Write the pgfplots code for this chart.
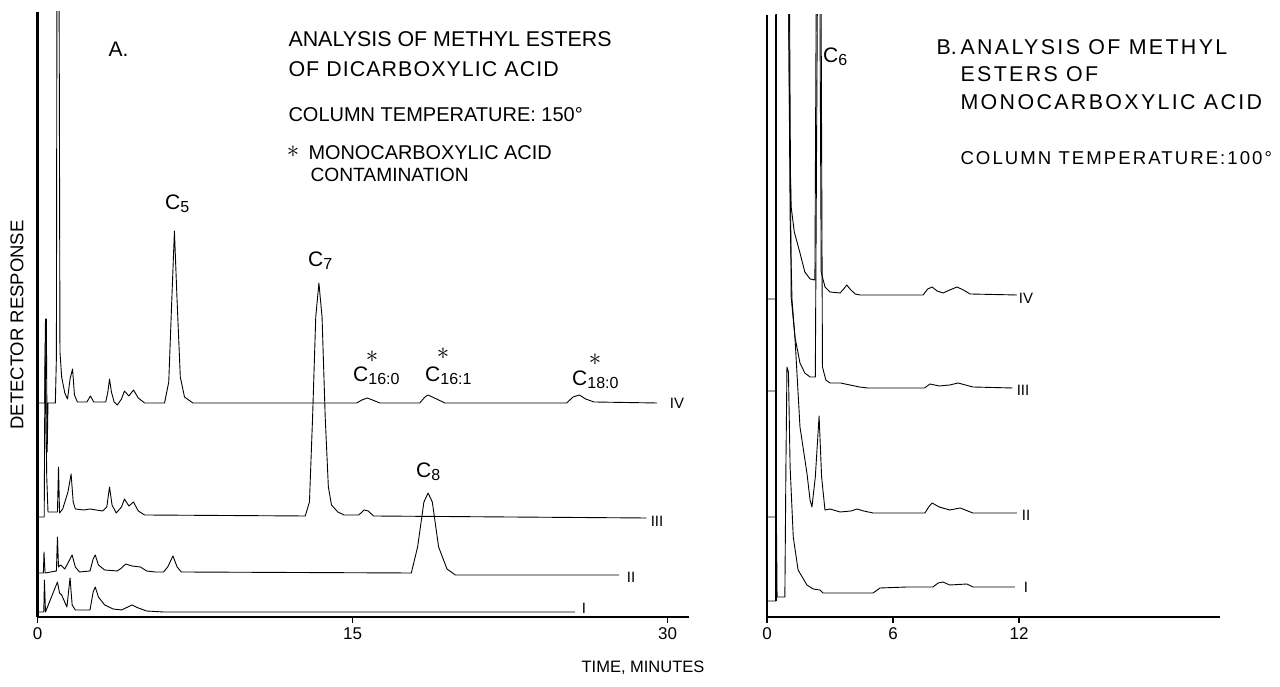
\documentclass[border=0pt]{standalone}
\usepackage{fontspec}
\setmainfont{Liberation Sans}
\newfontfamily\spaced[LetterSpace=11]{Liberation Sans}
\newfontfamily\spacedsm[LetterSpace=5]{Liberation Sans}
\usepackage{pgfplots}
\pgfplotsset{compat=1.18}
\newcommand{\fs}[1]{\fontsize{#1bp}{#1bp}\selectfont}
\newcommand{\pk}[1]{{\fs{21}C}{\fs{16}\raisebox{-3bp}{#1}}}
\newcommand{\astk}{$\ast$}
\begin{document}
\begin{tikzpicture}[x=1bp,y=1bp]
\useasboundingbox (0,0) rectangle (1280,687);
\pgfplotsset{
  chrom/.style={scale only axis, axis lines*=left,
    axis line style={line width=2.4bp, black},
    ymin=0, ytick=\empty, xtick align=outside,
    major tick length=6bp, tick style={line width=1.6bp, black},
    xticklabel style={font=\fs{17}, yshift=-1bp}},
  trace/.style={black, line width=0.9bp, line join=round, no marks}
}
% ---------------- Panel A ----------------
\begin{axis}[chrom, at={(37.5bp,70bp)}, anchor=south west,
  width=651bp, height=605bp, xmin=0, xmax=31, ymax=605,
  xtick={0,15,30}, xticklabels={0,15,30}]
% IV
\addplot[trace] coordinates {(0,214) (0.35,214) (0.38,298) (0.42,298) (0.46,165) (0.5,214) (0.85,214) (0.9,260) (0.93,700) (1.02,700) (1.07,265) (1.15,240) (1.3,224) (1.43,218) (1.55,238) (1.67,248) (1.76,222) (1.9,215) (2.35,215) (2.52,221) (2.68,215) (3.25,215) (3.35,225) (3.43,238) (3.52,225) (3.65,215) (3.8,212) (4.0,218) (4.14,226) (4.35,221) (4.57,227) (4.8,219) (5.1,214) (6.05,214) (6.25,235) (6.4,320) (6.52,386) (6.64,320) (6.8,240) (7.0,220) (7.4,214) (15.2,214) (15.45,217) (15.7,219) (15.95,217) (16.3,214) (18.2,214) (18.45,220) (18.6,222) (18.9,219) (19.4,214) (25.2,214) (25.5,220) (25.8,222) (26.1,218) (26.5,215) (29.5,214)};
% III
\addplot[trace] coordinates {(0,100) (0.32,100) (0.36,274) (0.44,140) (0.5,105) (0.95,105) (1.0,150) (1.05,104) (1.2,108) (1.45,125) (1.6,143) (1.7,115) (1.8,108) (2.2,107) (2.5,108) (3.1,106) (3.3,110) (3.43,130) (3.55,112) (3.75,104) (4.0,110) (4.14,118) (4.35,111) (4.57,115) (4.8,106) (5.1,102) (12.75,101) (12.95,115) (13.1,200) (13.25,300) (13.4,334) (13.55,300) (13.7,200) (13.85,130) (14.0,112) (14.3,105) (14.6,102) (15.3,102) (15.55,107) (15.75,106) (16.0,101) (29.0,99)};
% II
\addplot[trace] coordinates {(0,44) (0.28,44) (0.31,65) (0.36,44) (0.9,46) (0.95,80) (1.0,50) (1.1,52) (1.3,48) (1.55,58) (1.65,62) (1.8,50) (2.0,45) (2.5,46) (2.65,58) (2.75,62) (2.9,52) (3.2,47) (3.8,46) (4.0,49) (4.2,53) (4.5,51) (4.9,50) (5.2,46) (5.6,45) (6.0,45) (6.2,50) (6.45,61) (6.65,50) (6.85,45) (17.8,44) (18.1,70) (18.4,115) (18.6,124) (18.8,115) (19.1,70) (19.5,48) (19.9,42) (27.7,42)};
% I
\addplot[trace] coordinates {(0,5) (0.3,5) (0.33,37) (0.38,5) (0.95,35) (1.05,24) (1.15,22) (1.4,10) (1.55,39) (1.65,12) (1.8,7) (2.5,7) (2.65,25) (2.75,30) (2.9,20) (3.2,12) (3.6,8) (4.0,7) (4.3,10) (4.5,12) (4.8,9) (5.2,6) (6.0,5) (25.6,5)};
\end{axis}
% ---------------- Panel B ----------------
\begin{axis}[chrom, at={(767bp,70bp)}, anchor=south west,
  width=453bp, height=602bp, xmin=0, xmax=21.57, ymax=602,
  xtick={0,6,12}, xticklabels={0,6,12}]
% injection marks (pen strokes of all four runs)
\addplot[black, line width=2.4bp, no marks] coordinates {(0.43,16) (0.43,602)};
% IV
\addplot[trace] coordinates {(0,318) (0.42,318) (0.44,700) (1.0,700) (1.08,480) (1.15,410) (1.3,385) (1.57,364) (1.8,345) (2.05,338) (2.28,337) (2.36,700) (2.5,700) (2.58,345) (2.76,330) (3.0,325) (3.48,324) (3.65,328) (3.8,332) (3.95,328) (4.2,323) (4.43,322) (7.43,322) (7.65,328) (7.86,330) (8.1,326) (8.38,324) (8.7,327) (9.05,330) (9.35,327) (9.67,323) (11.9,322)};
% III
\addplot[trace] coordinates {(0,226) (0.42,226) (0.44,700) (1.0,700) (1.1,400) (1.19,317) (1.33,280) (1.57,254) (1.8,244) (2.05,240) (2.3,240) (2.42,700) (2.56,700) (2.64,250) (2.8,237) (3.0,234) (3.5,234) (4.4,230) (4.8,229) (7.5,229) (7.76,233) (8.2,231) (8.7,232) (9.1,234) (9.8,230) (11.7,229)};
% II
\addplot[trace] coordinates {(0,100) (0.42,100) (0.44,700) (1.05,700) (1.15,320) (1.33,280) (1.57,190) (1.9,144) (2.05,117) (2.14,110) (2.3,140) (2.48,201) (2.6,140) (2.76,107) (3.0,108) (3.48,105) (4.0,106) (4.29,108) (4.6,106) (5.05,104) (7.52,104) (7.7,110) (7.86,114) (8.2,110) (8.7,107) (9.2,109) (9.8,104) (11.9,104)};
% I
\addplot[trace] coordinates {(0,16) (0.42,16) (0.44,117) (0.48,20) (0.85,20) (0.9,150) (0.95,250) (1.02,245) (1.1,150) (1.25,80) (1.48,47) (1.9,32) (2.2,28) (2.52,27) (2.67,24) (5.05,24) (5.38,29) (6.67,30) (7.9,30) (8.15,34) (8.38,35) (8.7,32) (9.52,33) (9.8,30) (11.8,30)};
\end{axis}
% ---------------- Text ----------------
\node[rotate=90, font=\fs{18.5}] at (17,362) {DETECTOR RESPONSE};
\node[font=\fs{16.5}] at (643,19) {TIME, MINUTES};
% Panel A text
\node[anchor=base west, font=\fs{21}] at (105,630) {A.};
\node[anchor=base west, font=\fs{21.4}] at (285,640) {ANALYSIS OF METHYL ESTERS};
\node[anchor=base west, font=\spacedsm\fs{21.4}] at (285,610) {OF DICARBOXYLIC ACID};
\node[anchor=base west, font=\fs{20}] at (285,565) {COLUMN TEMPERATURE: 150°};
\node[font=\fs{26}] at (293,535) {\astk};
\node[anchor=base west, font=\fs{19.9}] at (305,527) {MONOCARBOXYLIC ACID};
\node[anchor=base west, font=\fs{19.2}] at (307,505) {CONTAMINATION};
% peak labels A
\node[anchor=base west, inner sep=0pt] at (165,477) {\pk{5}};
\node[anchor=base west, inner sep=0pt] at (308,420) {\pk{7}};
\node[anchor=base west, inner sep=0pt] at (416,209) {\pk{8}};
\node[anchor=base west, inner sep=0pt] at (353,305) {\pk{16:0}};
\node[anchor=base west, inner sep=0pt] at (425,305) {\pk{16:1}};
\node[anchor=base west, inner sep=0pt] at (572,301) {\pk{18:0}};
\node[font=\fs{28}] at (372,330) {\astk};
\node[font=\fs{28}] at (443,333) {\astk};
\node[font=\fs{28}] at (595,327) {\astk};
% trace labels A
\node[font=\fs{15}] at (677,284) {IV};
\node[font=\fs{15}] at (657,166) {III};
\node[font=\fs{15}] at (631,110) {II};
\node[font=\fs{15}] at (584,79) {I};
% Panel B text
\node[anchor=base west, font=\fs{21.4}] at (933,632) {B.};
\node[anchor=base west, font=\spaced\fs{21.4}] at (957,632) {ANALYSIS OF METHYL};
\node[anchor=base west, font=\spaced\fs{21.4}] at (957,605) {ESTERS OF};
\node[anchor=base west, font=\spaced\fs{21.4}] at (957,577) {MONOCARBOXYLIC ACID};
\node[anchor=base west, font=\spaced\fs{18.6}] at (957,522) {COLUMN TEMPERATURE:100°};
\node[anchor=base west, inner sep=0pt] at (823,624) {\pk{6}};
% trace labels B
\node[font=\fs{15}] at (1026,389) {IV};
\node[font=\fs{15}] at (1023,297) {III};
\node[font=\fs{15}] at (1026,172) {II};
\node[font=\fs{15}] at (1026,100) {I};
\end{tikzpicture}
\end{document}
